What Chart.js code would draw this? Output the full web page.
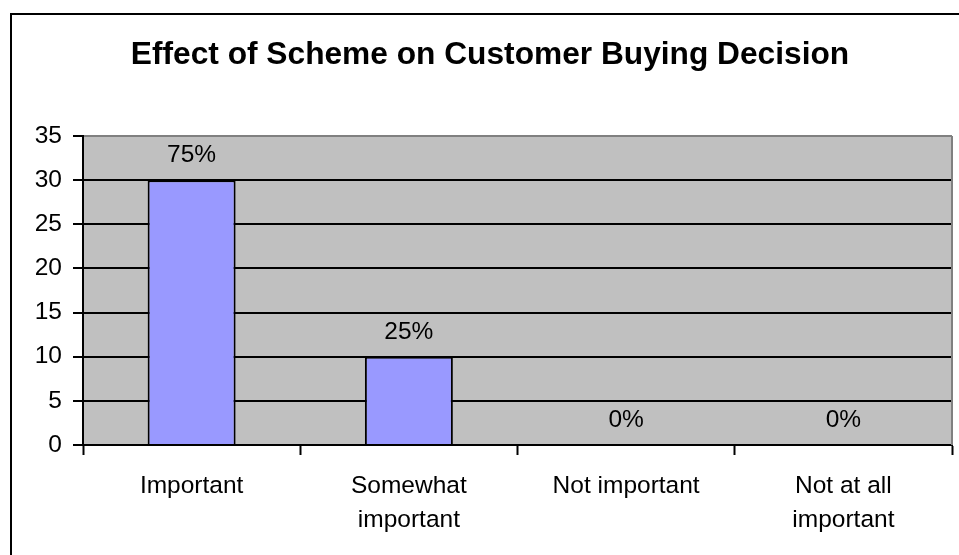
<!DOCTYPE html>
<html>
<head>
<meta charset="utf-8">
<title>Effect of Scheme on Customer Buying Decision</title>
<script src="https://cdn.jsdelivr.net/npm/chart.js@4/dist/chart.umd.min.js"></script>
<style>
  html, body { margin: 0; padding: 0; background: #fff; }
  #wrap { position: relative; width: 959px; height: 555px; }
</style>
</head>
<body>
<div id="wrap"><canvas id="myChart" width="959" height="555"></canvas></div>
<script>
// survey answers
let categories = [['Important'], ['Somewhat', 'important'], ['Not important'], ['Not at all', 'important']];
let responses = [30, 10, 0, 0];
let yTicks = [0, 5, 10, 15, 20, 25, 30, 35];
let chartTitle = 'Effect of Scheme on Customer Buying Decision';

const FONT = "'Liberation Sans', Arial, sans-serif";
let total = responses.reduce((a, b) => a + b, 0);

// grey plot background + outer frame + title
const frame = {
    id: 'frame',
    beforeDraw(chart) {
        const { ctx, chartArea: a } = chart;
        ctx.save();
        ctx.fillStyle = '#fff';
        ctx.fillRect(0, 0, chart.width, chart.height);
        ctx.fillStyle = '#C0C0C0';
        ctx.fillRect(a.left, a.top, a.right - a.left, a.bottom - a.top);
        // outer frame (runs off right and bottom)
        ctx.fillStyle = '#000';
        ctx.fillRect(10, 13, 2, chart.height);
        ctx.fillRect(10, 13, chart.width, 2);
        // title
        ctx.font = 'bold 31.7px ' + FONT;
        ctx.textAlign = 'center';
        ctx.textBaseline = 'alphabetic';
        ctx.fillText(chartTitle, 490, 64);
        ctx.restore();
    },
    afterDatasetsDraw(chart) {
        const { ctx, chartArea: a } = chart;
        ctx.save();
        // right border of plot area
        ctx.strokeStyle = '#808080';
        ctx.lineWidth = 2;
        ctx.beginPath();
        ctx.moveTo(a.right, a.top);
        ctx.lineTo(a.right, a.bottom);
        ctx.stroke();
        // percent labels over the bars
        ctx.fillStyle = '#000';
        ctx.font = '24.5px ' + FONT;
        ctx.textAlign = 'center';
        ctx.textBaseline = 'alphabetic';
        chart.getDatasetMeta(0).data.forEach((bar, i) => {
            let pct = Math.round(responses[i] / total * 100) + '%';
            ctx.fillText(pct, bar.x, bar.y - 18);
        });
        ctx.restore();
    }
};

new Chart(document.getElementById('myChart'), {
    type: 'bar',
    data: {
        labels: categories,
        datasets: [{
            data: responses,
            backgroundColor: '#9999FF',
            borderColor: '#000',
            borderWidth: 2,
            categoryPercentage: 1,
            barPercentage: 0.405
        }]
    },
    options: {
        responsive: false,
        animation: false,
        layout: { padding: { top: 136, right: 7, left: 0, bottom: 0 } },
        plugins: {
            legend: { display: false },
            title: { display: false },
            tooltip: { enabled: false }
        },
        scales: {
            x: {
                afterFit: (s) => { s.height = 110; },
                border: { color: '#000', width: 2 },
                grid: {
                    offset: true,
                    drawOnChartArea: false,
                    drawTicks: true,
                    tickLength: 10,
                    tickColor: '#000',
                    tickWidth: 2
                },
                ticks: {
                    color: '#000',
                    font: { family: FONT, size: 24.5, lineHeight: 1.36 },
                    padding: 15,
                    maxRotation: 0,
                    autoSkip: false
                }
            },
            y: {
                min: 0,
                max: 35,
                afterFit: (s) => { s.width = 83; },
                afterBuildTicks: (s) => { s.ticks = yTicks.map(v => ({ value: v })); },
                border: { color: '#000', width: 2 },
                grid: {
                    color: (c) => c.tick && c.tick.value === 35 ? '#808080' : '#000',
                    lineWidth: 2,
                    tickLength: 10,
                    tickColor: '#000',
                    tickWidth: 2
                },
                ticks: {
                    color: '#000',
                    font: { family: FONT, size: 24.5 },
                    padding: 11
                }
            }
        }
    },
    plugins: [frame]
});
</script>
</body>
</html>
